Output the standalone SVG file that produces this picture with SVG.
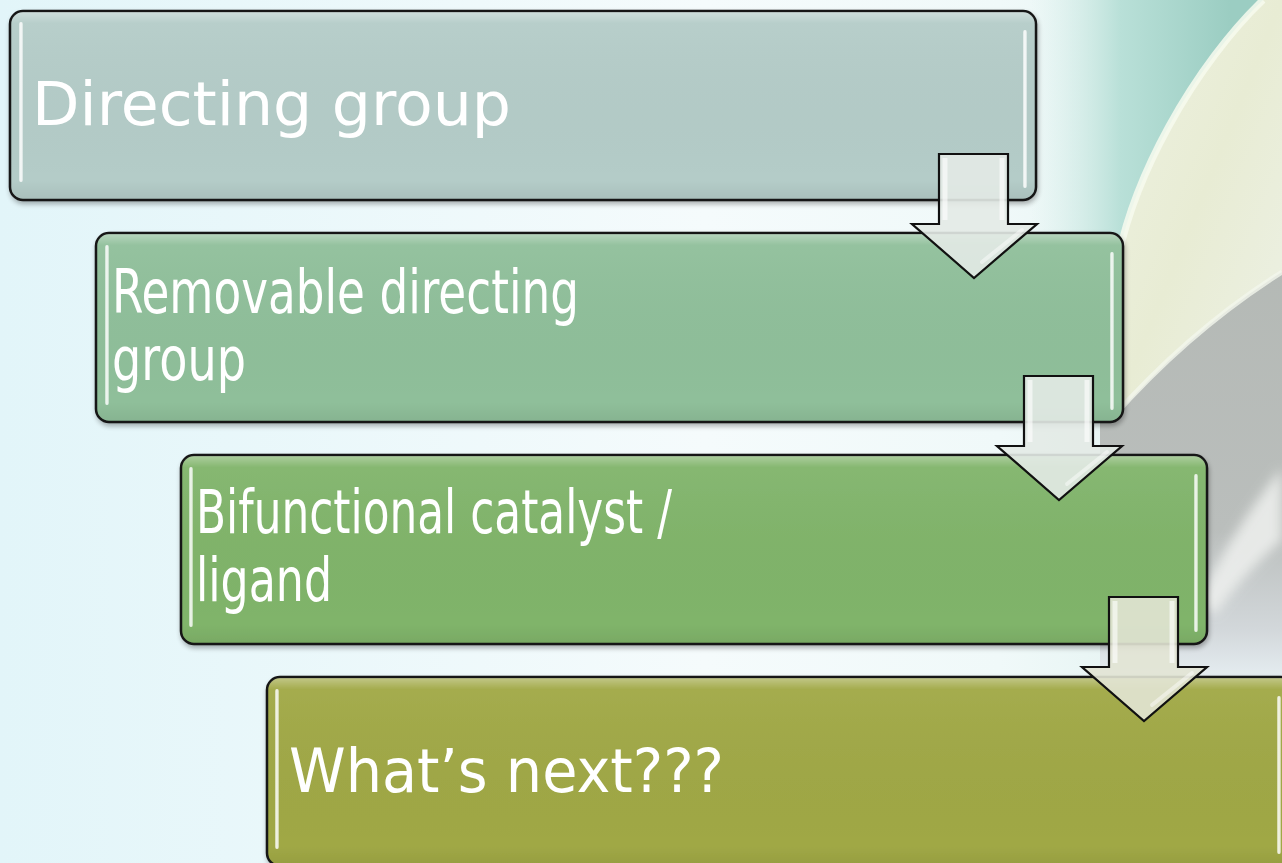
<svg xmlns="http://www.w3.org/2000/svg" width="1282" height="863" viewBox="0 0 1282 863">
  <defs>
    <linearGradient id="bg" x1="0" y1="0" x2="1" y2="0">
      <stop offset="0" stop-color="#e2f5f9"/>
      <stop offset="0.55" stop-color="#f5fbfc"/>
      <stop offset="0.78" stop-color="#f0f9f9"/>
      <stop offset="1" stop-color="#dcefec"/>
    </linearGradient>
    <linearGradient id="teal" x1="1030" y1="0" x2="1230" y2="0" gradientUnits="userSpaceOnUse">
      <stop offset="0" stop-color="#d8efea" stop-opacity="0"/>
      <stop offset="0.45" stop-color="#b9e0d8"/>
      <stop offset="1" stop-color="#9bcdc2"/>
    </linearGradient>
    <linearGradient id="grey" x1="0" y1="250" x2="0" y2="680" gradientUnits="userSpaceOnUse">
      <stop offset="0" stop-color="#b4b9b5"/>
      <stop offset="0.65" stop-color="#babebc"/>
      <stop offset="0.88" stop-color="#d2d7da"/>
      <stop offset="1" stop-color="#e6eef2"/>
    </linearGradient>
    <linearGradient id="cream" x1="0" y1="0" x2="1" y2="1">
      <stop offset="0" stop-color="#eef2e2"/>
      <stop offset="0.5" stop-color="#e8ecd4"/>
      <stop offset="1" stop-color="#edf1e6"/>
    </linearGradient>
    <linearGradient id="gloss" x1="0" y1="0" x2="0" y2="1">
      <stop offset="0" stop-color="#ffffff" stop-opacity="0.35"/>
      <stop offset="0.06" stop-color="#ffffff" stop-opacity="0.05"/>
      <stop offset="0.9" stop-color="#000000" stop-opacity="0"/>
      <stop offset="1" stop-color="#000000" stop-opacity="0.06"/>
    </linearGradient>
    <linearGradient id="strip" x1="0" y1="0" x2="1" y2="0">
      <stop offset="0" stop-color="#ffffff" stop-opacity="0.5"/>
      <stop offset="0.5" stop-color="#ffffff" stop-opacity="0.95"/>
      <stop offset="1" stop-color="#ffffff" stop-opacity="0.4"/>
    </linearGradient>
    <filter id="soft" x="-20%" y="-20%" width="140%" height="140%">
      <feGaussianBlur stdDeviation="6"/>
    </filter>
    <filter id="shadow" x="-5%" y="-10%" width="110%" height="125%">
      <feGaussianBlur in="SourceAlpha" stdDeviation="2.5"/>
      <feOffset dx="1" dy="3" result="b"/>
      <feComponentTransfer><feFuncA type="linear" slope="0.3"/></feComponentTransfer>
      <feMerge><feMergeNode/><feMergeNode in="SourceGraphic"/></feMerge>
    </filter>
    <polygon id="arrowShape" points="27,0 96,0 96,70 125,70 62,124 0,70 27,70"/>
  </defs>
  <style>
    .box { stroke: #151515; stroke-width: 2.5; }
    .gl { fill: url(#gloss); }
    .st { fill: url(#strip); }
    .lbl { font-family: "DejaVu Sans", Verdana, "Liberation Sans", sans-serif; font-size: 60px; fill: #ffffff; }
    .arr { fill: #e3eae5; fill-opacity: 0.9; stroke: #111111; stroke-width: 2.2; stroke-linejoin: miter; }
    .bev { fill: none; stroke: #ffffff; stroke-opacity: 0.6; stroke-width: 5; }
    .bev2 { fill: none; stroke: #ffffff; stroke-opacity: 0.45; stroke-width: 4; stroke-linecap: round; }
  </style>

  <!-- background -->
  <rect x="0" y="0" width="1282" height="863" fill="url(#bg)"/>
  <rect x="1030" y="0" width="252" height="300" fill="url(#teal)"/>
  <polygon points="1100,300 1282,200 1282,680 1100,680" fill="url(#grey)"/>
  <path d="M1282,468 L1282,540 Q1245,572 1215,615 L1198,602 Q1232,530 1282,468 Z" fill="#eceeec" opacity="0.9" filter="url(#soft)"/>
  <path d="M1263,0 C1200,60 1125,180 1113,290 L1112,420 Q1190,330 1282,272 L1282,0 Z" fill="url(#cream)"/>
  <path d="M1263,0 C1200,60 1125,180 1113,290 L1112,420" fill="none" stroke="#f7faef" stroke-width="7" opacity="0.85"/>
  <path d="M1112,418 Q1190,330 1282,272" fill="none" stroke="#f3f6ec" stroke-width="5" opacity="0.8"/>

  <!-- nodes -->
  <g id="node1" filter="url(#shadow)">
    <rect class="box" x="10" y="11" width="1026" height="189" rx="13" fill="#b4ccc8"/>
    <rect class="gl" x="11" y="12" width="1024" height="187" rx="12"/>
    <rect class="st" x="19" y="22" width="4" height="160" rx="2"/>
    <rect class="st" x="1023" y="30" width="4" height="158" rx="2"/>
    <text class="lbl" x="32" y="125" textLength="479" lengthAdjust="spacingAndGlyphs">Directing group</text>
  </g>
  <g id="node2" filter="url(#shadow)">
    <rect class="box" x="96" y="233" width="1027" height="189" rx="13" fill="#8fbf9a"/>
    <rect class="gl" x="97" y="234" width="1025" height="187" rx="12"/>
    <rect class="st" x="105" y="245" width="4" height="160" rx="2"/>
    <rect class="st" x="1110" y="252" width="4" height="158" rx="2"/>
    <text class="lbl" x="112" y="313" textLength="467" lengthAdjust="spacingAndGlyphs">Removable directing</text>
    <text class="lbl" x="112" y="380" textLength="134" lengthAdjust="spacingAndGlyphs">group</text>
  </g>
  <g id="node3" filter="url(#shadow)">
    <rect class="box" x="181" y="455" width="1026" height="189" rx="13" fill="#80b46a"/>
    <rect class="gl" x="182" y="456" width="1024" height="187" rx="12"/>
    <rect class="st" x="189" y="467" width="4" height="160" rx="2"/>
    <rect class="st" x="1194" y="474" width="4" height="158" rx="2"/>
    <text class="lbl" x="196" y="533" textLength="476" lengthAdjust="spacingAndGlyphs">Bifunctional catalyst /</text>
    <text class="lbl" x="196" y="601" textLength="136" lengthAdjust="spacingAndGlyphs">ligand</text>
  </g>
  <g id="node4" filter="url(#shadow)">
    <rect class="box" x="267" y="677" width="1027" height="189" rx="13" fill="#a0a845"/>
    <rect class="gl" x="268" y="678" width="1025" height="187" rx="12"/>
    <rect class="st" x="275" y="689" width="4" height="160" rx="2"/>
    <rect class="st" x="1277" y="696" width="4" height="158" rx="2"/>
    <text class="lbl" x="289" y="792" textLength="435" lengthAdjust="spacingAndGlyphs">What’s next???</text>
  </g>

  <!-- connectors -->
  <g id="connectors">
    <g transform="translate(912,154)">
      <use href="#arrowShape" class="arr"/>
      <path class="bev" d="M33,4 L33,66"/>
      <path class="bev" d="M90,4 L90,66"/>
      <path class="bev2" d="M70,108 L110,76"/>
    </g>
    <g transform="translate(997,376)">
      <use href="#arrowShape" class="arr"/>
      <path class="bev" d="M33,4 L33,66"/>
      <path class="bev" d="M90,4 L90,66"/>
      <path class="bev2" d="M70,108 L110,76"/>
    </g>
    <g transform="translate(1082,597)">
      <use href="#arrowShape" class="arr" style="fill:#e2e4d4"/>
      <path class="bev" d="M33,4 L33,66"/>
      <path class="bev" d="M90,4 L90,66"/>
      <path class="bev2" d="M70,108 L110,76"/>
    </g>
  </g>
</svg>
